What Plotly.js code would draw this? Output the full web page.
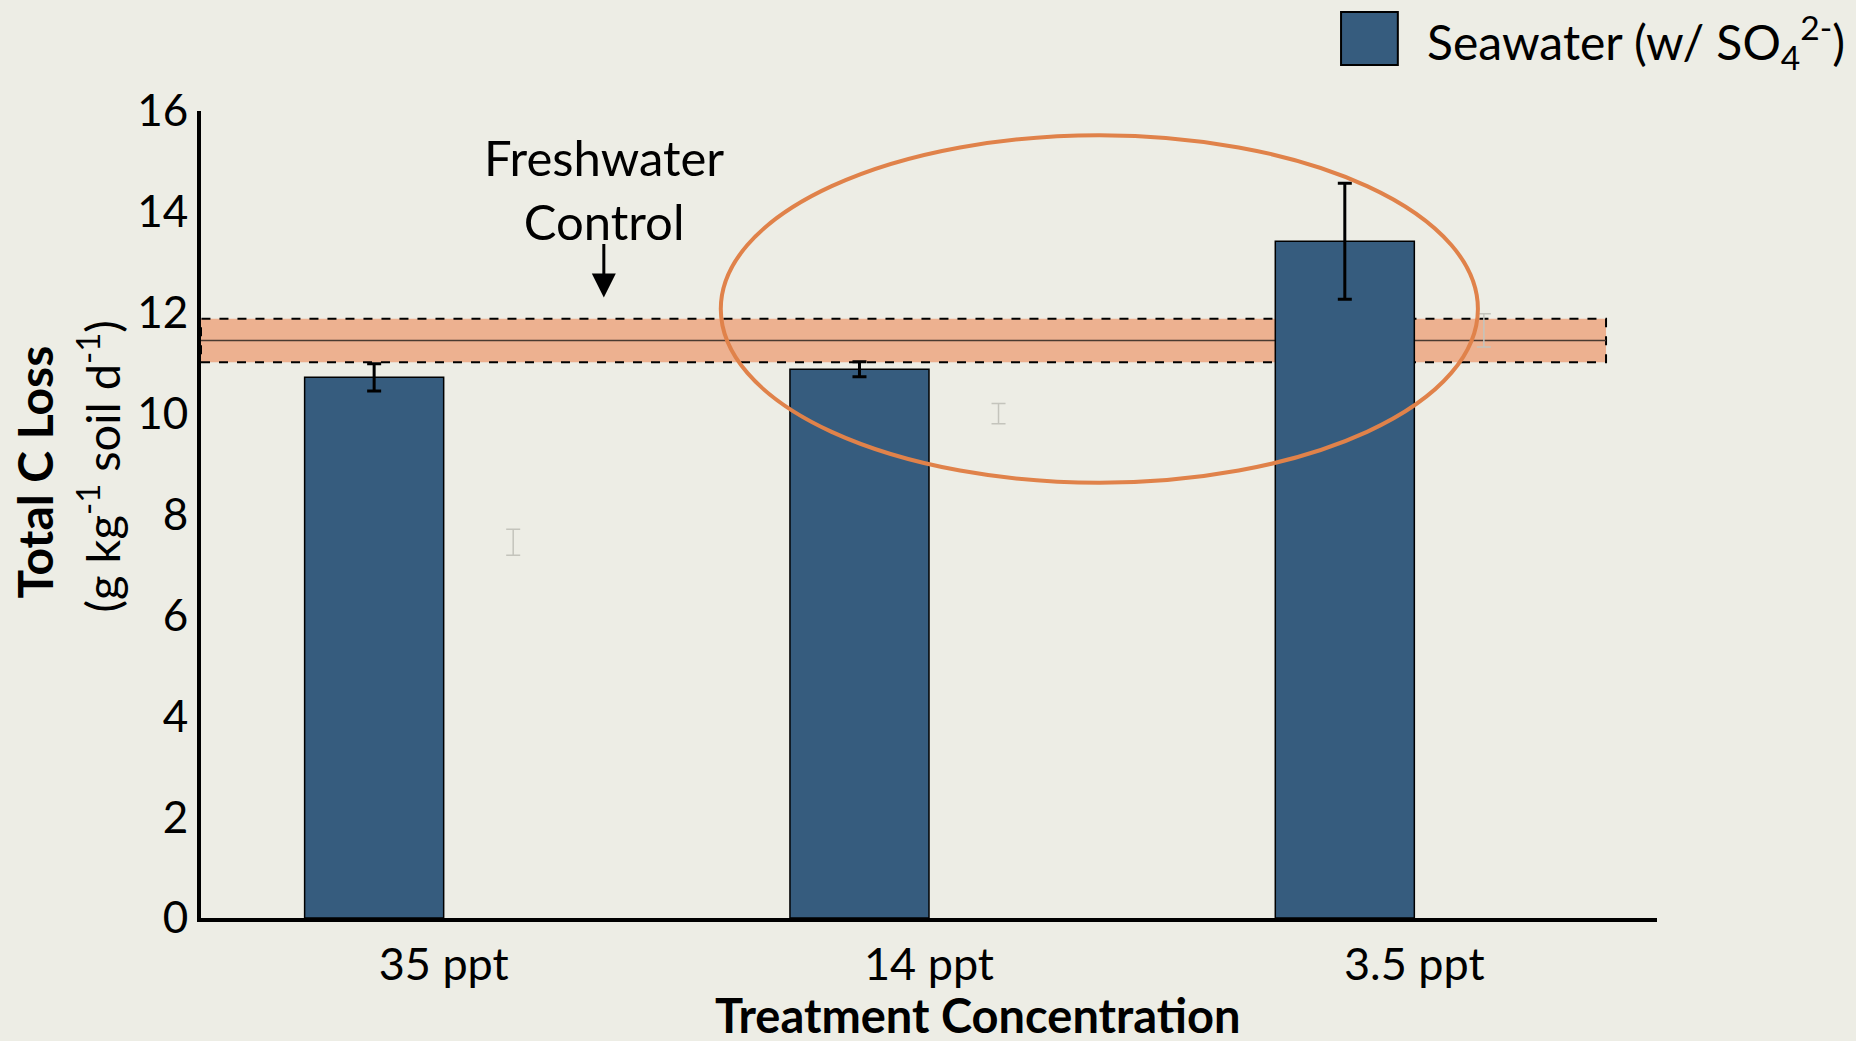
<!DOCTYPE html>
<html>
<head>
<meta charset="utf-8">
<script src="https://cdn.plot.ly/plotly-3.0.1.min.js"></script>
<style>html,body{margin:0;padding:0;background:#EDEDE5;}#chart{width:1856px;height:1041px;}</style>
</head>
<body>
<div id="chart"></div>
<script>
// ---- data ----
const categories = ["35 ppt", "14 ppt", "3.5 ppt"];
const seawaterValues = [10.72, 10.88, 13.42];
const seawaterErrors = [0.27, 0.15, 1.15];
const hiddenValues = [7.45, 10.0, 11.65];
const hiddenErrors = [0.26, 0.2, 0.33];
const controlMean = [11.45];
const controlErr = [0.43];

const FONT = "Lato, 'Open Sans', sans-serif";
const barColor = "#365C7E";

const traces = [
  {
    type: "bar", name: "Seawater (w/ SO4 2-)", x: categories, y: seawaterValues,
    marker: {color: barColor, line: {color: "#000", width: 1.5}},
    error_y: {type: "data", array: seawaterErrors, visible: true, color: "#000", thickness: 3, width: 7},
    hoverinfo: "skip", showlegend: false
  },
  {
    type: "bar", name: "hidden", x: categories, y: hiddenValues,
    marker: {color: "rgba(0,0,0,0)", line: {width: 0}},
    error_y: {type: "data", array: hiddenErrors, visible: true, color: "#C4C4BC", thickness: 1.5, width: 7},
    hoverinfo: "skip", showlegend: false
  }
];

const cm = controlMean[0], ce = controlErr[0];

const layout = {
  width: 1856, height: 1041,
  paper_bgcolor: "#EDEDE5", plot_bgcolor: "#EDEDE5",
  margin: {l: 201, r: 199, t: 111, b: 123},
  barmode: "group", bargap: 0.427, bargroupgap: 0,
  showlegend: false,
  font: {family: FONT, color: "#000"},
  xaxis: {
    type: "category", range: [-0.5, 2.5],
    showline: true, linecolor: "#000", linewidth: 4,
    showgrid: false, zeroline: false, ticks: "",
    tickfont: {size: 45, family: FONT, color: "#000"},
    ticklabelstandoff: 4,
    automargin: false
  },
  yaxis: {
    range: [0, 16], dtick: 2,
    showline: true, linecolor: "#000", linewidth: 4,
    showgrid: false, zeroline: false, ticks: "",
    tickfont: {size: 44, family: FONT, color: "#000"},
    automargin: false
  },
  shapes: [
    {type: "rect", xref: "x", yref: "y", x0: -0.5, x1: 2.395, y0: cm - ce, y1: cm + ce,
     fillcolor: "#EDB190", line: {color: "#000", width: 2, dash: "dash"}, layer: "below"},
    {type: "line", xref: "x", yref: "y", x0: -0.5, x1: 2.395, y0: cm, y1: cm,
     line: {color: "#4a3a30", width: 1.5}, layer: "below"},
    {type: "circle", xref: "x", yref: "y", x0: 0.571, x1: 2.131, y0: 8.63, y1: 15.52,
     line: {color: "#E0824A", width: 4}, fillcolor: "rgba(0,0,0,0)", layer: "above"},
    {type: "rect", xref: "paper", yref: "paper", x0: 0.783, x1: 0.822, y0: 1.057, y1: 1.1227,
     fillcolor: barColor, line: {color: "#000", width: 2}}
  ],
  annotations: [
    {xref: "paper", yref: "paper", x: 0.8407, y: 1.0855, xanchor: "left", yanchor: "middle",
     text: "Seawater (w/ SO<sub>4</sub><sup>2-</sup>)", showarrow: false,
     font: {size: 48, family: FONT, color: "#000"}},
    {xref: "x", yref: "y", x: 0.33, y: 14.45, text: "Freshwater<br>Control", showarrow: false,
     font: {size: 49, family: FONT, color: "#000"}, align: "center"},
    {xref: "x", yref: "y", x: 0.33, y: 12.3, text: "", showarrow: true, axref: "pixel", ayref: "pixel",
     ax: 0, ay: -55, arrowhead: 2, arrowsize: 1.6, arrowwidth: 3, arrowcolor: "#000"},
    {xref: "paper", yref: "paper", x: -0.114, y: 0.552, textangle: -90, showarrow: false,
     text: "<b>Total C Loss</b>", font: {size: 48, family: FONT, color: "#000"},
     xanchor: "center", yanchor: "middle"},
    {xref: "paper", yref: "paper", x: -0.0694, y: 0.5595, textangle: -90, showarrow: false,
     text: "(g kg<sup>-1</sup> soil d<sup>-1</sup>)", font: {size: 47, family: FONT, color: "#000"},
     xanchor: "center", yanchor: "middle"},
    {xref: "paper", yref: "paper", x: 0.5337, y: -0.1205, showarrow: false,
     text: "<b>Treatment Concentration</b>", font: {size: 47, family: FONT, color: "#000"},
     xanchor: "center", yanchor: "middle"}
  ]
};

Plotly.newPlot("chart", traces, layout, {staticPlot: true, displayModeBar: false});
</script>
</body>
</html>
